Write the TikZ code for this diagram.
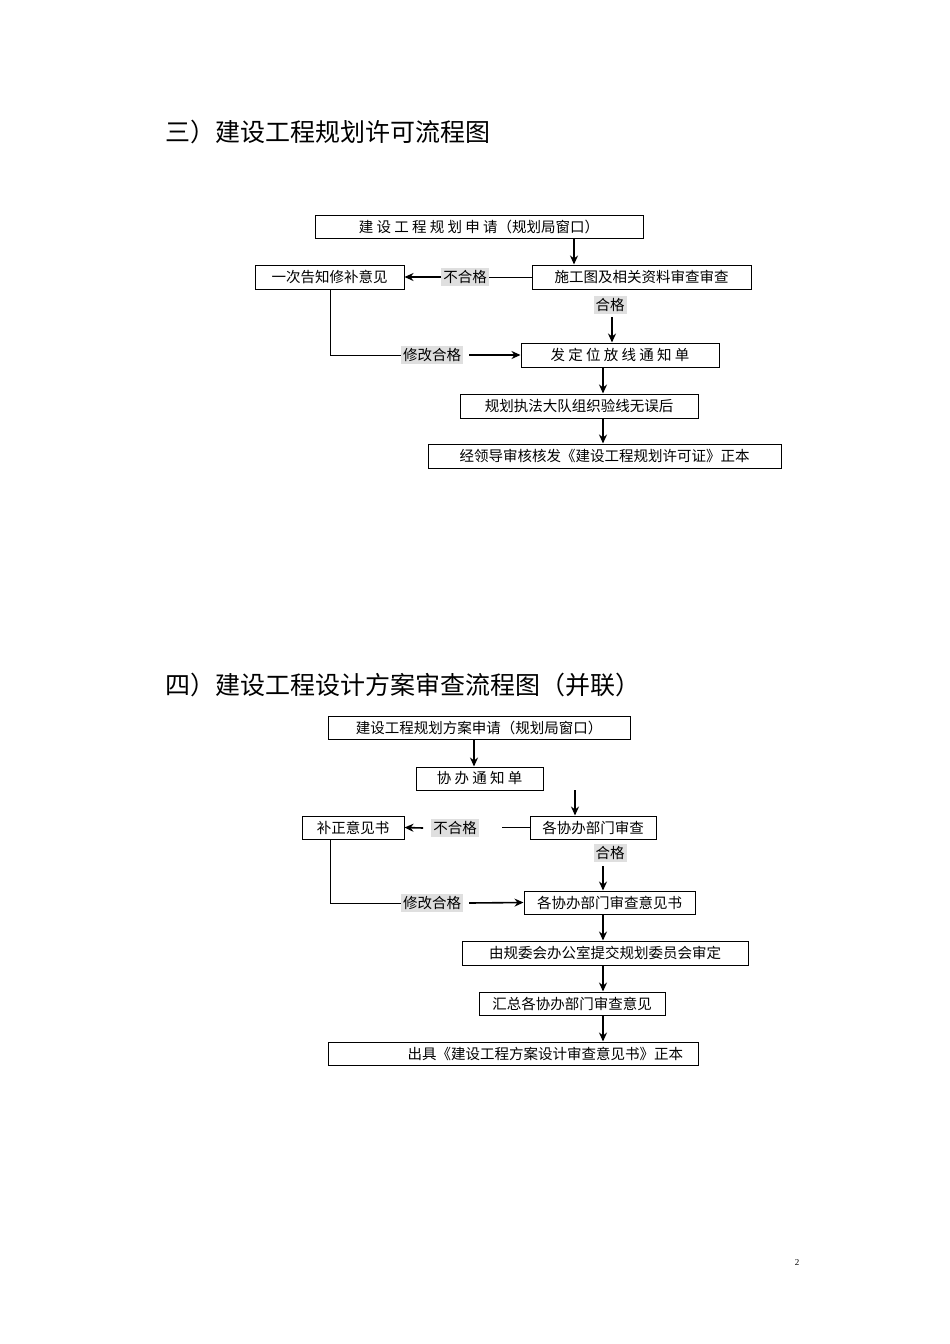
\documentclass[tikz,border=0pt]{standalone}
\usepackage{fontspec}
\setmainfont{Liberation Serif}
\newfontfamily\cjk{Noto Sans CJK SC}
\usetikzlibrary{arrows.meta}
\begin{document}
\begin{tikzpicture}[x=1pt,y=-1pt,
  box/.style={draw,line width=1pt,inner sep=0pt,font=\cjk\fontsize{14.5}{15}\selectfont},
  lab/.style={fill=gray!25,inner sep=2pt,font=\cjk\fontsize{14.5}{15}\selectfont},
  arr/.style={line width=1.6pt,-{Stealth[length=9pt,width=8pt]}},
  ln/.style={line width=0.8pt},
  head/.style={anchor=west,inner sep=0pt,font=\cjk\fontsize{25}{26}\selectfont}]
\useasboundingbox (0,0) rectangle (950,1344);
\fill[white] (0,0) rectangle (950,1344);
\newcommand{\bx}[6]{\node[box,minimum width=#4-#2,minimum height=#5-#3] (#1) at ({(#2+#4)/2},{(#3+#5)/2}) {#6};}
\node[head] (h1) at (165,132) {三）建设工程规划许可流程图};
\node[head] (h2) at (165,685) {四）建设工程设计方案审查流程图（并联）};
\node[font=\fontsize{9}{10}\selectfont] (pg) at (797,1263) {2};
% section 1
\bx{A}{315}{215}{643}{238}{建 设 工 程 规 划 申 请（规划局窗口）}
\bx{B}{532}{265}{751}{289}{施工图及相关资料审查审查}
\bx{C}{255}{265}{404}{289}{一次告知修补意见}
\bx{D}{521}{343}{719}{367}{发 定 位 放 线 通 知 单}
\bx{E}{460}{394}{698}{418}{规划执法大队组织验线无误后}
\bx{F}{428}{444}{781}{468}{经领导审核核发《建设工程规划许可证》正本}
\node[lab] (n1) at (465,277) {不合格};
\node[lab] (p1) at (610,305) {合格};
\node[lab] (m1) at (432,355) {修改合格};
\coordinate (a1) at (574,238);
\draw[arr] (a1) -- (A.south -| a1) -- (B.north -| a1);
\draw[ln] (B.west) -- (n1.east);
\draw[arr] (n1.west) -- (C.east);
\draw[arr] (D.north |- p1.south) ++(-8,3) coordinate (q1) -- (q1 |- D.north);
\draw[ln] (330,289) coordinate (c1) -- (c1 |- m1) -- (m1.west);
\draw[arr] (m1.east) ++(6,0) -- (D.west);
\draw[arr] (603,367) coordinate (d1) -- (d1 |- E.north);
\draw[arr] (603,418) coordinate (e1) -- (e1 |- F.north);
% section 2
\bx{G}{328}{716}{630}{739}{建设工程规划方案申请（规划局窗口）}
\bx{H}{416}{767}{543}{790}{协 办 通 知 单}
\bx{I}{530}{816}{656}{839}{各协办部门审查}
\bx{J}{302}{816}{404}{839}{补正意见书}
\bx{K}{524}{891}{695}{914}{各协办部门审查意见书}
\bx{L}{462}{941}{748}{965}{由规委会办公室提交规划委员会审定}
\bx{M}{479}{992}{665}{1015}{汇总各协办部门审查意见}
\node[box,minimum width=370,minimum height=23,text width=340,align=right,inner xsep=8pt] (N) at (513,1053.5) {出具《建设工程方案设计审查意见书》正本};
\node[lab] (n2) at (455,828) {不合格};
\node[lab] (p2) at (610,853) {合格};
\node[lab] (m2) at (432,903) {修改合格};
\draw[arr] (474,739) coordinate (g1) -- (g1 |- H.north);
\coordinate (t2) at (575,790);
\draw[arr] (t2) -- (t2 |- I.north);
\draw[ln] (I.west) -- ++(-28,0);
\draw[arr] (n2.west) ++(-8,0) -- (J.east);
\draw[arr] (603,866) coordinate (k1) -- (k1 |- K.north);
\draw[ln] (330,839) coordinate (j1) -- (j1 |- m2) -- (m2.west);
\draw[arr] (m2.east) ++(6,0) -- (K.west);
\draw[arr] (603,914) coordinate (l1) -- (l1 |- L.north);
\draw[arr] (603,965) coordinate (l2) -- (l2 |- M.north);
\draw[arr] (603,1015) coordinate (l3) -- (l3 |- N.north);
\end{tikzpicture}
\end{document}
